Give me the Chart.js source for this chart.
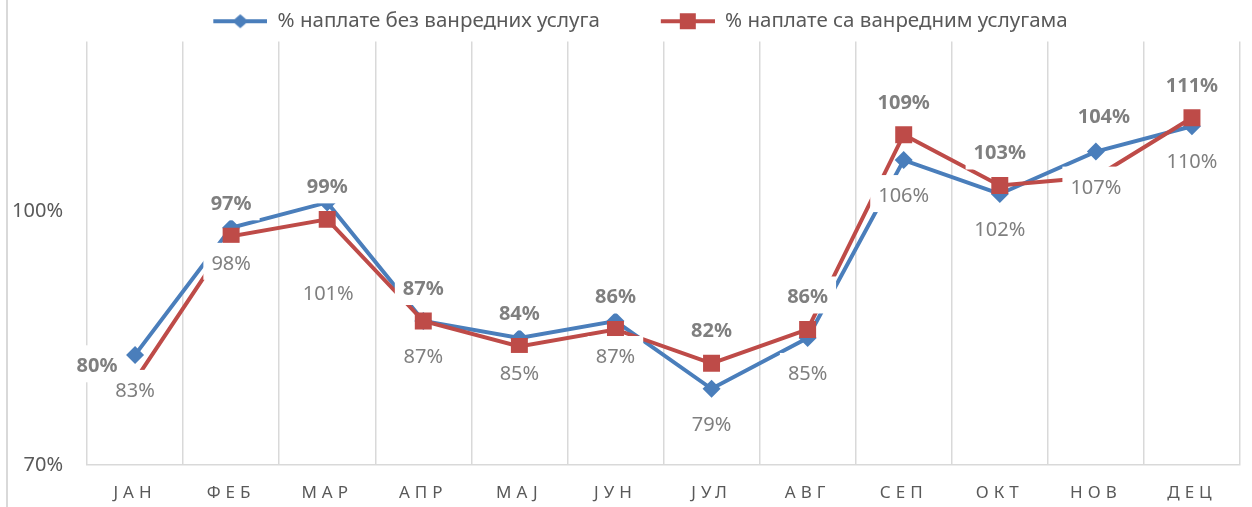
<!DOCTYPE html>
<html>
<head>
<meta charset="utf-8">
<script src="https://cdn.jsdelivr.net/npm/chart.js@4"></script>
<style>
  html, body { margin: 0; padding: 0; background: #fff; }
  #wrap { position: relative; width: 1252px; height: 507px; }
  #wrap::before { content: ""; position: absolute; left: 6px; top: 0; bottom: 0; width: 2px; background: #d9d9d9; }
</style>
</head>
<body>
<div id="wrap"><canvas id="chart" width="1252" height="507"></canvas></div>
<script>
// Data
const months = ["ЈАН", "ФЕБ", "МАР", "АПР", "МАЈ", "ЈУН", "ЈУЛ", "АВГ", "СЕП", "ОКТ", "НОВ", "ДЕЦ"];
const withoutExtra = [83, 98, 101, 87, 85, 87, 79, 85, 106, 102, 107, 110];
const withExtra = [80, 97, 99, 87, 84, 86, 82, 86, 109, 103, 104, 111];
const seriesNames = ["% наплате без ванредних услуга", "% наплате са ванредним услугама"];
const yTicks = [70, 100];

const blue = "#4a7ebb";
const red = "#be4b48";
const font = "'Noto Sans', sans-serif";

// label offsets that were moved by hand in the original
const labelShift = { "1:0": [-38, -15], "0:2": [1, 91], "1:10": [8, -61] };

function legendIcon(color, shape) {
  const c = document.createElement("canvas");
  c.width = 85;
  c.height = 20;
  const g = c.getContext("2d");
  g.strokeStyle = color;
  g.lineWidth = 4;
  g.beginPath();
  g.moveTo(31, 10);
  g.lineTo(85, 10);
  g.stroke();
  g.fillStyle = color;
  const cx = 58;
  if (shape === "diamond") {
    g.beginPath();
    g.moveTo(cx, 3);
    g.lineTo(cx + 8, 10);
    g.lineTo(cx, 17);
    g.lineTo(cx - 8, 10);
    g.closePath();
    g.fill();
  } else {
    g.fillRect(cx - 8, 2, 16, 16);
  }
  return c;
}
const icons = [legendIcon(blue, "diamond"), legendIcon(red, "square")];

const valueLabels = {
  id: "valueLabels",
  afterDatasetsDraw(chart) {
    const ctx = chart.ctx;
    const items = [];
    chart.data.datasets.forEach((ds, di) => {
      const meta = chart.getDatasetMeta(di);
      meta.data.forEach((pt, i) => {
        const off = labelShift[di + ":" + i] || [0, di === 0 ? 35 : -33];
        items.push({ x: pt.x + off[0], y: pt.y + off[1], text: ds.data[i] + "%", bold: di === 1 });
      });
    });
    ctx.save();
    ctx.textAlign = "center";
    ctx.textBaseline = "alphabetic";
    items.forEach(it => {
      ctx.font = (it.bold ? "bold " : "") + "20px " + font;
      const w = ctx.measureText(it.text).width;
      ctx.fillStyle = "#fff";
      ctx.fillRect(it.x - w / 2 - 8, it.y - 20, w + 16, 37);
    });
    items.forEach(it => {
      ctx.font = (it.bold ? "bold " : "") + "20px " + font;
      ctx.fillStyle = "#7f7f7f";
      ctx.fillText(it.text, it.x, it.y + 7);
    });
    ctx.restore();
  }
};

const spacedLabels = {
  id: "spacedLabels",
  afterLayout(chart) {
    const sc = chart.scales.x;
    if (sc._spaced) return;
    const orig = sc.drawLabels.bind(sc);
    sc.drawLabels = function (area) {
      this.ctx.save();
      this.ctx.letterSpacing = "5px";
      orig(area);
      this.ctx.restore();
    };
    sc._spaced = true;
  }
};

new Chart(document.getElementById("chart"), {
  type: "line",
  data: {
    labels: months,
    datasets: [
      {
        label: seriesNames[0],
        data: withoutExtra,
        borderColor: blue,
        backgroundColor: blue,
        borderWidth: 4,
        pointStyle: "rectRot",
        pointRadius: 9,
        pointBorderWidth: 0,
        tension: 0,
        order: 1
      },
      {
        label: seriesNames[1],
        data: withExtra,
        borderColor: red,
        backgroundColor: red,
        borderWidth: 4,
        pointStyle: "rect",
        pointRadius: 12,
        pointBorderWidth: 0,
        tension: 0,
        order: 0
      }
    ]
  },
  options: {
    responsive: false,
    animation: false,
    devicePixelRatio: 1,
    layout: { padding: { left: 0, right: 2, top: -19, bottom: 0 } },
    plugins: {
      tooltip: { enabled: false },
      legend: {
        position: "top",
        labels: {
          usePointStyle: true,
          pointStyleWidth: 85,
          padding: 30,
          color: "#595959",
          font: { family: font, size: 20.5 },
          generateLabels: chart => chart.data.datasets.map((ds, i) => ({
            text: ds.label,
            pointStyle: icons[i],
            fillStyle: ds.borderColor,
            strokeStyle: "transparent",
            lineWidth: 0,
            fontColor: "#595959",
            datasetIndex: i,
            hidden: false
          }))
        }
      }
    },
    scales: {
      x: {
        offset: true,
        grid: { offset: true, color: "#d9d9d9", lineWidth: 1.5, drawTicks: false },
        border: { display: true, color: "#d9d9d9", width: 1.5 },
        ticks: { color: "#595959", font: { family: font, size: 17 }, padding: 18, autoSkip: false, maxRotation: 0 },
        afterFit: s => { s.height = 42; }
      },
      y: {
        min: 70,
        max: 120,
        grid: { display: false },
        border: { display: false },
        ticks: { color: "#595959", font: { family: font, size: 20 }, padding: 16, callback: v => v + "%" },
        afterBuildTicks: s => { s.ticks = yTicks.map(v => ({ value: v })); },
        afterFit: s => { s.width = 87; }
      }
    }
  },
  plugins: [valueLabels, spacedLabels]
});
</script>
</body>
</html>
